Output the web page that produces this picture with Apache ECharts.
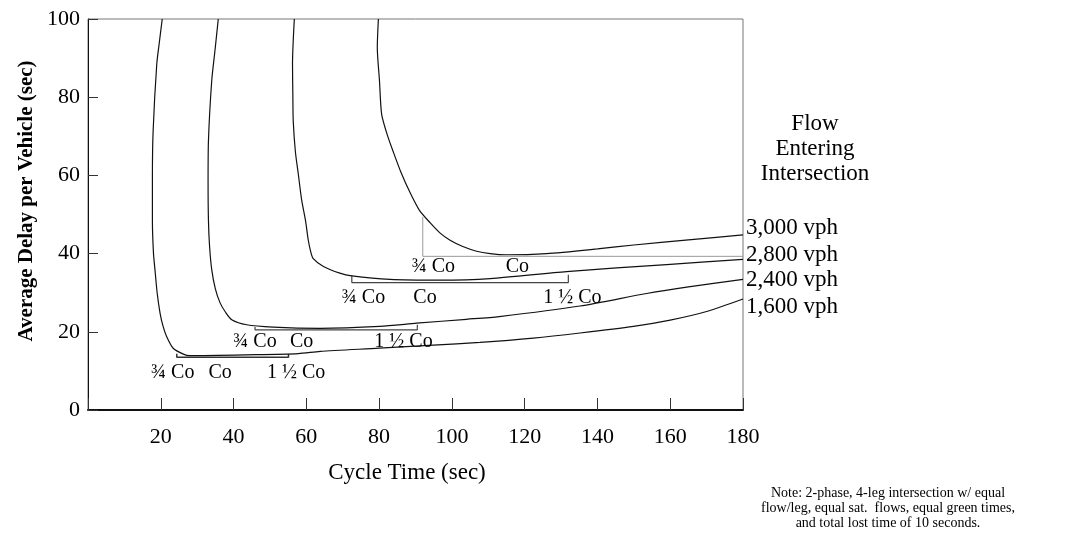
<!DOCTYPE html>
<html>
<head>
<meta charset="utf-8">
<script src="https://cdn.jsdelivr.net/npm/echarts@6/dist/echarts.min.js"></script>
<style>html,body{margin:0;padding:0;background:#fff}#c{width:1077px;height:536px}</style>
</head>
<body>
<div id="c"></div>
<script>
// ---- data ----
const xTicks = [20, 40, 60, 80, 100, 120, 140, 160, 180];
const yTicks = [0, 20, 40, 60, 80, 100];
const flowNames = ['3,000 vph', '2,800 vph', '2,400 vph', '1,600 vph'];

const curve3000 = [[79.8,100],[79.5,92.7],[80.1,84.2],[80.7,75.6],[82.2,70.5],[83.9,66],[86,60.8],[88.5,55.6],[91,51.2],[94,47.9],[96.7,45.3],[99.5,43.4],[103,41.8],[106.8,40.6],[110.5,40],[115,39.7],[126,40],[140,41.2],[150,42.2],[165,43.5],[180,44.8]];
const curve2800 = [[56.7,100],[56.2,88.5],[56.3,80],[56.4,73.9],[57,66],[57.8,60.3],[58.7,53.8],[59.8,48.3],[60.5,43.6],[61.2,40.5],[61.9,38.7],[64.7,36.7],[69.2,35],[72.5,34.3],[83,33.4],[96.7,33.2],[110.5,33.6],[131.5,35.4],[159,37.2],[180,38.5]];
const curve2400 = [[35.8,100],[34.9,92],[34,84.2],[33.1,68.8],[33,58],[33.1,48.5],[33.4,42],[34,35.9],[35,31],[36.3,27.4],[37.8,25],[39.5,23.1],[43.6,21.8],[50.9,21.2],[63.8,20.9],[80.2,21.4],[90.3,22.2],[104,23.2],[113,23.9],[135.2,26.6],[153.5,29.8],[165,31.5],[180,33.4]];
const curve1600 = [[20.4,100],[19.6,94],[18.9,88.5],[17.9,71.4],[17.7,60],[17.7,48.3],[18,40],[18.4,35.9],[19,30],[19.8,24.8],[20.6,21.5],[21.6,18.8],[23.4,15.8],[26.2,14.3],[28,13.9],[43.6,14.1],[57.8,14.4],[63.8,15],[80,15.8],[94.9,16.6],[107.7,17.3],[122.4,18.4],[135.2,19.7],[149.9,21.4],[160,23],[170,25.2],[180,28.4]];

// cycle-length brackets (¾ Co ... 1½ Co)
const bracket3000 = [[92,49.4],[92,39.3],[180,39.3]];
const bracket2800 = [[72.5,34.4],[72.5,32.6],[132,32.6],[132,34.6]];
const bracket2400 = [[45.9,21.2],[45.9,20.5],[90.5,20.5],[90.5,21.8]];
const bracket1600 = [[24.4,14.4],[24.4,13.5],[55.1,13.5],[55.1,14.3]];

// annotation labels [x, y, text]
const coLabels = [
  [94.9,36.7,'¾ Co'],[118,36.7,'Co'],
  [75.7,28.6,'¾ Co'],[92.6,28.6,'Co'],[133.1,28.6,'1 ½ Co'],
  [45.9,17.5,'¾ Co'],[58.7,17.5,'Co'],[86.7,17.5,'1 ½ Co'],
  [23.3,9.4,'¾ Co'],[36.3,9.4,'Co'],[57.2,9.4,'1 ½ Co']
];

// ---- chart ----
const FONT = '"Liberation Serif", "DejaVu Serif", serif';
const chart = echarts.init(document.getElementById('c'), null, {renderer: 'canvas'});

function curve(data) {
  return {type: 'line', data: data, showSymbol: false, symbol: 'none', smooth: 0.25,
    lineStyle: {color: '#111', width: 1.2}, silent: true, z: 3};
}
function bracket(data, color, w) {
  return {type: 'line', data: data, showSymbol: false, symbol: 'none', smooth: false,
    lineStyle: {color: color, width: w}, silent: true, z: 2};
}

const rightTextY = [228, 255, 280, 307];

const option = {
  animation: false,
  backgroundColor: '#fff',
  grid: {left: 88, top: 19, width: 655, height: 391, show: true, borderColor: '#777', borderWidth: 1, backgroundColor: 'transparent'},
  xAxis: {
    type: 'value', min: 0, max: 180, interval: 20,
    axisLine: {show: true, lineStyle: {color: '#111', width: 2}},
    axisTick: {show: true, inside: true, length: 12, lineStyle: {color: '#333', width: 1}},
    splitLine: {show: false},
    axisLabel: {color: '#000', fontFamily: FONT, fontSize: 22, margin: 16,
      formatter: v => (xTicks.indexOf(v) >= 0 ? String(v) : '')}
  },
  yAxis: {
    type: 'value', min: 0, max: 100, interval: 20,
    axisLine: {show: true, lineStyle: {color: '#111', width: 1}},
    axisTick: {show: true, inside: true, length: 10, lineStyle: {color: '#333', width: 1}},
    splitLine: {show: false},
    axisLabel: {color: '#000', fontFamily: FONT, fontSize: 22, margin: 8,
      formatter: v => (yTicks.indexOf(v) >= 0 ? String(v) : '')}
  },
  series: [
    curve(curve3000), curve(curve2800), curve(curve2400), curve(curve1600),
    bracket(bracket3000, '#999', 1),
    bracket(bracket2800, '#444', 1.2),
    bracket(bracket2400, '#444', 1.2),
    bracket(bracket1600, '#333', 1.5),
    {
      type: 'scatter', symbolSize: 0, silent: true, z: 5,
      itemStyle: {color: '#000', opacity: 1},
      data: coLabels.map(d => ({value: [d[0], d[1]], name: d[2]})),
      label: {show: true, position: 'inside', formatter: '{b}', color: '#000', opacity: 1,
        textBorderWidth: 0, textBorderColor: 'transparent',
        fontFamily: FONT, fontSize: 20}
    }
  ],
  graphic: [
    {type: 'text', x: 27, y: 201, rotation: Math.PI / 2,
      style: {text: 'Average Delay per Vehicle (sec)', fill: '#000', font: 'bold 21px ' + FONT, textAlign: 'center', textVerticalAlign: 'middle'}},
    {type: 'text', x: 407, y: 473,
      style: {text: 'Cycle Time (sec)', fill: '#000', font: '23px ' + FONT, textAlign: 'center', textVerticalAlign: 'middle'}},
    {type: 'text', x: 815, y: 124, style: {text: 'Flow', fill: '#000', font: '23px ' + FONT, textAlign: 'center', textVerticalAlign: 'middle'}},
    {type: 'text', x: 815, y: 149, style: {text: 'Entering', fill: '#000', font: '23px ' + FONT, textAlign: 'center', textVerticalAlign: 'middle'}},
    {type: 'text', x: 815, y: 174, style: {text: 'Intersection', fill: '#000', font: '23px ' + FONT, textAlign: 'center', textVerticalAlign: 'middle'}}
  ].concat(flowNames.map((n, i) => ({type: 'text', x: 746, y: rightTextY[i],
      style: {text: n, fill: '#000', font: '23px ' + FONT, textAlign: 'left', textVerticalAlign: 'middle'}})))
   .concat([
    {type: 'text', x: 888, y: 493, style: {text: 'Note: 2-phase, 4-leg intersection w/ equal', fill: '#000', font: '14px ' + FONT, textAlign: 'center', textVerticalAlign: 'middle'}},
    {type: 'text', x: 888, y: 508, style: {text: 'flow/leg, equal sat.  flows, equal green times,', fill: '#000', font: '14px ' + FONT, textAlign: 'center', textVerticalAlign: 'middle'}},
    {type: 'text', x: 888, y: 523, style: {text: 'and total lost time of 10 seconds.', fill: '#000', font: '14px ' + FONT, textAlign: 'center', textVerticalAlign: 'middle'}}
  ])
};
chart.setOption(option);
</script>
</body>
</html>
